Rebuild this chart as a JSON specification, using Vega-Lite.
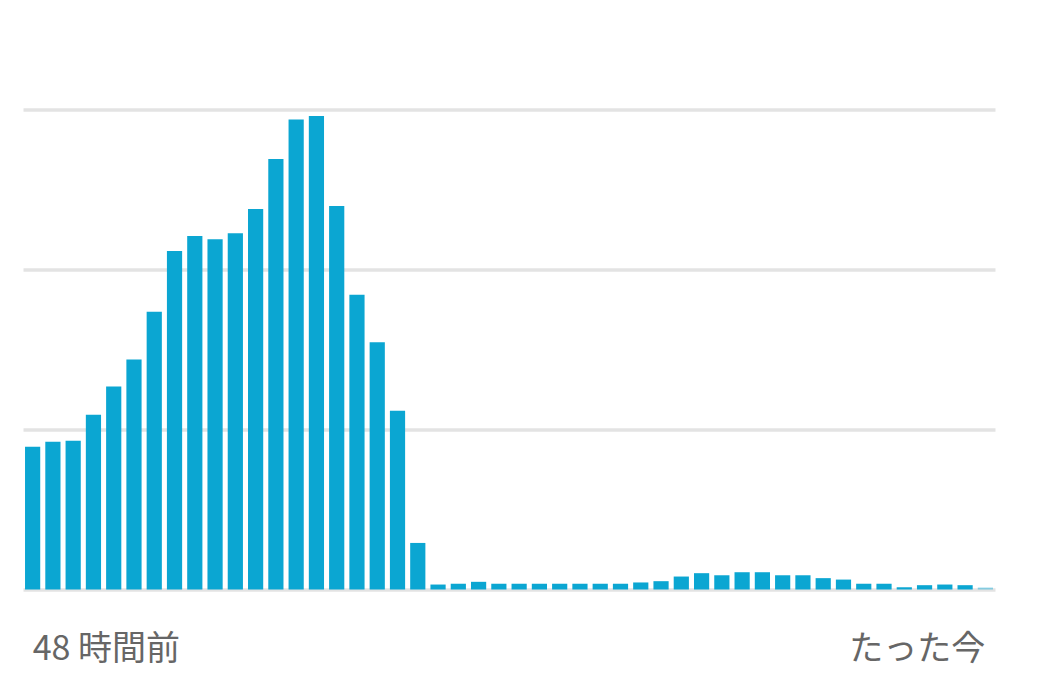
{
  "$schema": "https://vega.github.io/schema/vega-lite/v6.json",
  "autosize": "none",
  "width": 972,
  "height": 480,
  "padding": {"left": 23, "top": 109.5, "right": 51, "bottom": 97.5},
  "background": "#ffffff",
  "config": {"view": {"stroke": null}},
  "data": {
    "values": [
      {"h": 1, "v": 89.2}, {"h": 2, "v": 92.3}, {"h": 3, "v": 93.0}, {"h": 4, "v": 109.2},
      {"h": 5, "v": 126.8}, {"h": 6, "v": 143.7}, {"h": 7, "v": 173.6}, {"h": 8, "v": 211.6},
      {"h": 9, "v": 221.0}, {"h": 10, "v": 218.9}, {"h": 11, "v": 222.6}, {"h": 12, "v": 237.8},
      {"h": 13, "v": 269.0}, {"h": 14, "v": 293.8}, {"h": 15, "v": 296.0}, {"h": 16, "v": 239.7},
      {"h": 17, "v": 184.2}, {"h": 18, "v": 154.5}, {"h": 19, "v": 111.7}, {"h": 20, "v": 29.1},
      {"h": 21, "v": 3.1}, {"h": 22, "v": 3.6}, {"h": 23, "v": 4.8}, {"h": 24, "v": 3.6},
      {"h": 25, "v": 3.6}, {"h": 26, "v": 3.6}, {"h": 27, "v": 3.6}, {"h": 28, "v": 3.6},
      {"h": 29, "v": 3.6}, {"h": 30, "v": 3.6}, {"h": 31, "v": 4.4}, {"h": 32, "v": 5.2},
      {"h": 33, "v": 8.1}, {"h": 34, "v": 10.2}, {"h": 35, "v": 8.9}, {"h": 36, "v": 10.8},
      {"h": 37, "v": 10.8}, {"h": 38, "v": 8.9}, {"h": 39, "v": 8.9}, {"h": 40, "v": 7.1},
      {"h": 41, "v": 6.2}, {"h": 42, "v": 3.6}, {"h": 43, "v": 3.6}, {"h": 44, "v": 1.4},
      {"h": 45, "v": 2.7}, {"h": 46, "v": 3.1}, {"h": 47, "v": 2.7}, {"h": 48, "v": 1.2, "current": true}
    ]
  },
  "mark": {"type": "bar", "color": "#0ba6d2"},
  "encoding": {
    "x": {
      "field": "h",
      "type": "ordinal",
      "scale": {"paddingInner": 0.25, "paddingOuter": 0.1},
      "axis": {
        "title": null,
        "domain": false,
        "ticks": false,
        "labelAngle": 0,
        "labelExpr": "datum.value == 1 ? '48 時間前' : datum.value == 48 ? 'たった今' : ''",
        "labelAlign": {"condition": {"test": "datum.value == 1", "value": "left"}, "value": "right"},
        "labelFont": "Noto Sans CJK JP",
        "labelFontSize": 34,
        "labelColor": "#666666",
        "labelPadding": 70,
        "labelBaseline": "alphabetic",
        "labelOverlap": false,
        "labelBound": false,
        "labelFlush": false
      }
    },
    "y": {
      "field": "v",
      "type": "quantitative",
      "scale": {"domain": [0, 300], "nice": false},
      "axis": {
        "title": null,
        "labels": false,
        "ticks": false,
        "domain": false,
        "values": [0, 100, 200, 300],
        "gridColor": "#e3e3e3",
        "gridWidth": 3.5,
        "gridOpacity": 1
      }
    },
    "opacity": {
      "condition": {"test": "datum.current === true", "value": 0.45},
      "value": 1
    }
  }
}
